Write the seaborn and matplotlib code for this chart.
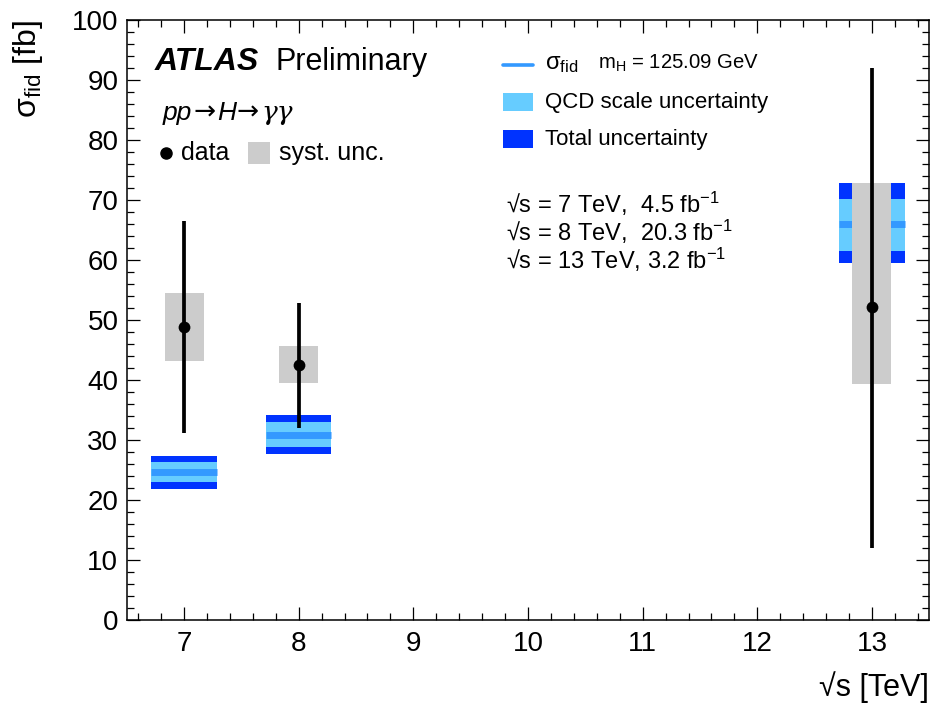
import matplotlib
matplotlib.use("Agg")
import matplotlib.pyplot as plt
from matplotlib.patches import Rectangle
from matplotlib.ticker import MultipleLocator
from matplotlib.lines import Line2D
import numpy as np
import pandas as pd
import seaborn as sns

# Centre-of-mass energies [TeV]
sqrt_s = [7, 8, 13]

# Measured fiducial cross sections [fb]
data_xs = [48.9, 42.5, 52.1]
tot_hi = [66.5, 52.8, 92.0]      # upper edge of total uncertainty
tot_lo = [31.2, 32.0, 12.0]      # lower edge of total uncertainty
syst_hi = [54.5, 45.7, 72.8]     # upper edge of systematic band
syst_lo = [43.2, 39.5, 39.3]     # lower edge of systematic band

# Theory prediction (mH = 125.09 GeV) [fb]
th_central = [24.7, 30.9, 66.0]
th_qcd_hi = [26.3, 33.0, 70.2]
th_qcd_lo = [23.0, 28.8, 61.5]
th_tot_hi = [27.3, 34.2, 72.8]
th_tot_lo = [21.9, 27.6, 59.45]

lumi_labels = ["√s = 7 TeV,  4.5 fb$^{-1}$",
               "√s = 8 TeV,  20.3 fb$^{-1}$",
               "√s = 13 TeV, 3.2 fb$^{-1}$"]

DARK = "#0033FF"
LIGHT = "#66CCFF"
MID = "#3399FF"
GREY = "#CCCCCC"

sns.set_theme(style="ticks")
FONT = ["Liberation Sans", "DejaVu Sans"]
plt.rcParams["font.family"] = FONT
plt.rcParams["mathtext.fontset"] = "custom"
plt.rcParams["mathtext.rm"] = "Liberation Sans"
plt.rcParams["mathtext.it"] = "Liberation Sans:italic"
plt.rcParams["mathtext.bf"] = "Liberation Sans:bold"
plt.rcParams["mathtext.sf"] = "Liberation Sans"
for key in ["text.color", "axes.labelcolor", "xtick.color", "ytick.color",
            "axes.edgecolor"]:
    plt.rcParams[key] = "black"

df = pd.DataFrame({
    "sqrt_s": sqrt_s, "xs": data_xs,
    "tot_hi": tot_hi, "tot_lo": tot_lo,
    "syst_hi": syst_hi, "syst_lo": syst_lo,
    "th": th_central, "qcd_hi": th_qcd_hi, "qcd_lo": th_qcd_lo,
    "th_hi": th_tot_hi, "th_lo": th_tot_lo,
})

fig = plt.figure(figsize=(9.44, 7.08), dpi=100)
L, R, T, B = 126.7, 929.3, 20.0, 620.0
ax = fig.add_axes([L / 944, 1 - B / 708, (R - L) / 944, (B - T) / 708])

th_w = 0.57
sy_w = 0.34

# theory bands
ax.bar(df["sqrt_s"], df["th_hi"] - df["th_lo"], bottom=df["th_lo"],
       width=th_w, color=DARK, linewidth=0, zorder=1)
ax.bar(df["sqrt_s"], df["qcd_hi"] - df["qcd_lo"], bottom=df["qcd_lo"],
       width=th_w, color=LIGHT, linewidth=0, zorder=1.1)
ax.hlines(df["th"], df["sqrt_s"] - th_w / 2, df["sqrt_s"] + th_w / 2,
          color=MID, linewidth=5, zorder=1.2)

# systematic uncertainty boxes
ax.bar(df["sqrt_s"], df["syst_hi"] - df["syst_lo"], bottom=df["syst_lo"],
       width=sy_w, color=GREY, linewidth=0, zorder=2)

# total uncertainty error bars and data points
ax.vlines(df["sqrt_s"], df["tot_lo"], df["tot_hi"], color="black",
          linewidth=2.7, zorder=3)
sns.scatterplot(data=df, x="sqrt_s", y="xs", ax=ax, color="black", s=72,
                edgecolor="black", linewidth=0, zorder=4, legend=False)

ax.set_xlim(6.5, 13.5)
ax.set_ylim(0, 100)
ax.xaxis.set_major_locator(MultipleLocator(1))
ax.xaxis.set_minor_locator(MultipleLocator(0.2))
ax.yaxis.set_major_locator(MultipleLocator(10))
ax.yaxis.set_minor_locator(MultipleLocator(2))
ax.tick_params(which="both", direction="in", top=True, right=True,
               color="black", width=0.9)
ax.tick_params(which="major", length=9.2, labelsize=20, pad=6)
ax.tick_params(which="minor", length=5)
ax.tick_params(axis="x", which="major", pad=8)
for s in ax.spines.values():
    s.set_linewidth(1.1)
    s.set_color("black")
    s.set_visible(True)

ax.set_xlabel("√s [TeV]", fontsize=22, loc="right")
ax.xaxis.set_label_coords(1.0, -0.085)
ax.set_ylabel("σ$_{\\mathrm{fid}}$ [fb]", fontsize=23, loc="top")
ax.yaxis.set_label_coords(-0.102, 1.0)


def axc(px, py):
    return ((px - L) / (R - L), (B - py) / (B - T))


tr = ax.transAxes
ax.text(*axc(155, 70), "ATLAS", transform=tr, fontsize=23, fontweight="bold",
        fontstyle="italic", va="baseline", ha="left")
ax.text(*axc(275, 70), "Preliminary", transform=tr, fontsize=22,
        va="baseline", ha="left")

# process label, built piece by piece so the arrows and gammas use
# symbol-like glyphs next to the italic sans letters
pieces = [("pp", {"family": "Liberation Sans", "fontstyle": "italic"}, 19, 1.0),
          ("→", {"family": "DejaVu Sans"}, 19, 1.5),
          ("H", {"family": "Liberation Sans", "fontstyle": "italic"}, 19, 1.0),
          ("→", {"family": "DejaVu Sans"}, 19, 2.5),
          ("γγ", {"family": "DejaVu Serif", "fontstyle": "italic"}, 19, 0)]
px_x = 163.0
renderer = fig.canvas.get_renderer()
for txt, kw, fs, gap in pieces:
    t = ax.text(*axc(px_x, 120), txt, transform=tr, fontsize=fs,
                va="baseline", ha="left", **kw)
    bb = t.get_window_extent(renderer=renderer)
    px_x += bb.width + gap

ax.add_line(Line2D([axc(166, 0)[0]], [axc(0, 153)[1]], transform=tr,
                   marker="o", markersize=8, color="black", linestyle=""))
ax.text(*axc(181, 160), "data", transform=tr, fontsize=18,
        va="baseline", ha="left")
x0, y0 = axc(248, 164)
x1, y1 = axc(270, 142)
ax.add_patch(Rectangle((x0, y0), x1 - x0, y1 - y0, transform=tr,
                       color=GREY, linewidth=0))
ax.text(*axc(279, 160), "syst. unc.", transform=tr, fontsize=18,
        va="baseline", ha="left")

# theory legend
lx0, _ = axc(503, 0)
lx1, _ = axc(533, 0)
ax.add_line(Line2D([lx0, lx1], [axc(0, 65)[1]] * 2, transform=tr,
                   color=MID, linewidth=2.6))
ax.text(*axc(545, 69), "σ$_{\\mathrm{fid}}$", transform=tr, fontsize=17,
        va="baseline", ha="left")
ax.text(*axc(598, 69), r"m$_{\mathrm{H}}$ = 125.09 GeV", transform=tr,
        fontsize=14.6, va="baseline", ha="left")
for (ytop, ybot, col, lab, yb) in [(93, 111, LIGHT, "QCD scale uncertainty", 108),
                                   (130, 148, DARK, "Total uncertainty", 145)]:
    _, ya = axc(0, ybot)
    _, yb2 = axc(0, ytop)
    ax.add_patch(Rectangle((lx0, ya), lx1 - lx0, yb2 - ya, transform=tr,
                           color=col, linewidth=0))
    ax.text(*axc(545, yb), lab, transform=tr, fontsize=16,
            va="baseline", ha="left")

for lab, yb in zip(lumi_labels, [212.5, 240.5, 269]):
    ax.text(*axc(506, yb), lab, transform=tr, fontsize=17,
            va="baseline", ha="left")

fig.savefig("out.png", dpi=100)
